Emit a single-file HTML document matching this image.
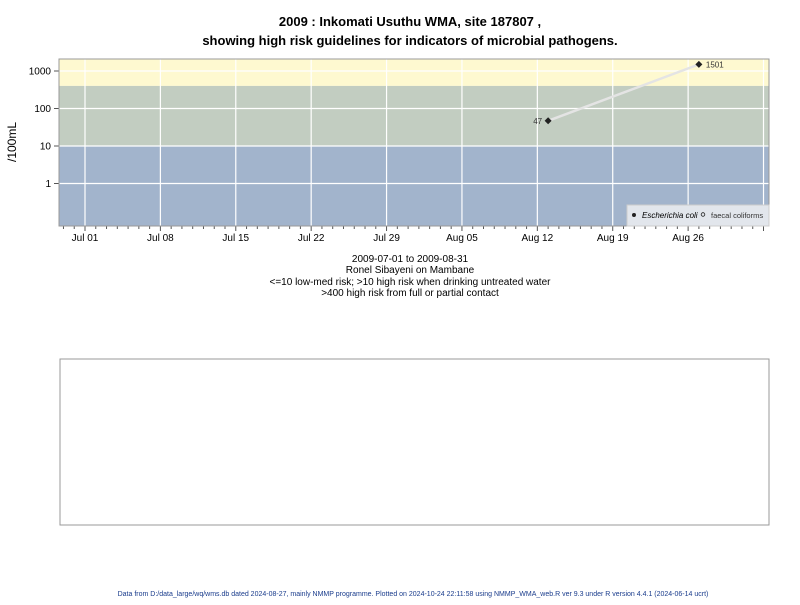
<!DOCTYPE html>
<html><head><meta charset="utf-8"><style>
body{margin:0;background:#fff;font-family:"Liberation Sans",sans-serif}
</style></head><body>
<svg width="800" height="600" xmlns="http://www.w3.org/2000/svg" font-family="Liberation Sans, sans-serif">
<text x="410" y="26" text-anchor="middle" font-size="13" font-weight="bold">2009 : Inkomati Usuthu WMA, site 187807 ,</text>
<text x="410" y="45" text-anchor="middle" font-size="13" font-weight="bold">showing high risk guidelines for indicators of microbial pathogens.</text>
<g id="plot"></g>
<text transform="translate(16,142) rotate(-90)" text-anchor="middle" font-size="12">/100mL</text>
<g font-size="10" text-anchor="middle">
<text x="410" y="262">2009-07-01 to 2009-08-31</text>
<text x="410" y="273">Ronel Sibayeni on Mambane</text>
<text x="410" y="285">&lt;=10 low-med risk; &gt;10 high risk when drinking untreated water</text>
<text x="410" y="296">&gt;400 high risk from full or partial contact</text>
</g>
<rect x="60" y="359" width="709" height="166" fill="#fff" stroke="#999"/>
<text x="413" y="596" text-anchor="middle" font-size="7" fill="#1a3c8c">Data from D:/data_large/wq/wms.db dated 2024-08-27, mainly NMMP programme. Plotted on 2024-10-24 22:11:58 using NMMP_WMA_web.R ver 9.3 under R version 4.4.1 (2024-06-14 ucrt)</text>
</svg>
<script>
const dates=["2009-08-13","2009-08-27"];
const ecoli=[47,1501];
const yTicks=[1,10,100,1000];
const xTickLabels=["Jul 01","Jul 08","Jul 15","Jul 22","Jul 29","Aug 05","Aug 12","Aug 19","Aug 26"];
const bands=[{lo:400,hi:1e4,c:"#fef9d0"},{lo:10,hi:400,c:"#c2cdc1"},{lo:1e-9,hi:10,c:"#a2b4cc"}];
const NS="http://www.w3.org/2000/svg";
const L=59,R=769,T=59,B=226;
const t0=Date.UTC(2009,6,1);
function xs(d){return 85+((Date.parse(d+"T00:00:00Z")-t0)/864e5)*10.77;}
function xd(i){return 85+i*10.77;}
function ys(v){return 183.5-Math.log10(v)*37.5;}
const g=document.getElementById('plot');
function el(n,a,p){const e=document.createElementNS(NS,n);for(const k in a)e.setAttribute(k,a[k]);(p||g).appendChild(e);return e;}
bands.forEach((b,i)=>{const y1=Math.max(T,ys(b.hi)),y2=Math.min(B,ys(b.lo));
const r=el('rect',{x:L,y:y1,width:R-L,height:y2-y1,fill:b.c});

});
yTicks.forEach(v=>{const y=ys(v);
const l=el('line',{x1:L,x2:R,y1:y,y2:y,stroke:"#fff","stroke-width":1.2});


el('line',{x1:L-5,x2:L,y1:y,y2:y,stroke:"#555"});
const t=el('text',{x:L-8,y:y+3.5,"text-anchor":"end","font-size":10});t.textContent=v;

});
xTickLabels.forEach((s,i)=>{const x=xd(i*7);
const l=el('line',{x1:x,x2:x,y1:T,y2:B,stroke:"#fff","stroke-width":1.2});


const t=el('text',{x:x,y:241,"text-anchor":"middle","font-size":10});t.textContent=s;

});
el('line',{x1:xd(63),x2:xd(63),y1:T,y2:B,stroke:"#fff","stroke-width":1.2});
for(let i=-2;i<64;i++){const x=xd(i);if(x<L||x>R)continue;el('line',{x1:x,x2:x,y1:B,y2:B+(i%7==0?5:3),stroke:"#555"});}
el('rect',{x:L,y:T,width:R-L,height:B-T,fill:"none",stroke:"#999"});
const pts=dates.map((d,i)=>[xs(d),ys(ecoli[i])]);
const ln=el('polyline',{points:pts.map(p=>p.join(',')).join(' '),fill:"none",stroke:"#e4e4e4","stroke-width":2.5});


pts.forEach((p,i)=>{const m=el('path',{d:`M${p[0]-3.5},${p[1]}L${p[0]},${p[1]-3.5}L${p[0]+3.5},${p[1]}L${p[0]},${p[1]+3.5}Z`,fill:"#222"});


const first=i==0;
const t=el('text',{x:first?p[0]-6:p[0]+7,y:p[1]+3,"text-anchor":first?"end":"start","font-size":8,fill:"#333"});t.textContent=ecoli[i];

});
const lg=el('g',{});


el('rect',{x:627,y:205,width:142,height:21,fill:"#e2e6ec",stroke:"#ccc"},lg);
el('circle',{cx:634,cy:215,r:2,fill:"#222"},lg);
const t1=el('text',{x:642,y:218,"font-size":8,"font-style":"italic"},lg);t1.textContent="Escherichia coli";
el('circle',{cx:703,cy:214.5,r:1.8,fill:"none",stroke:"#222","stroke-width":0.8},lg);
const t2=el('text',{x:711,y:218,"font-size":7.5,fill:"#333"},lg);t2.textContent="faecal coliforms";
</script>
</body></html>
